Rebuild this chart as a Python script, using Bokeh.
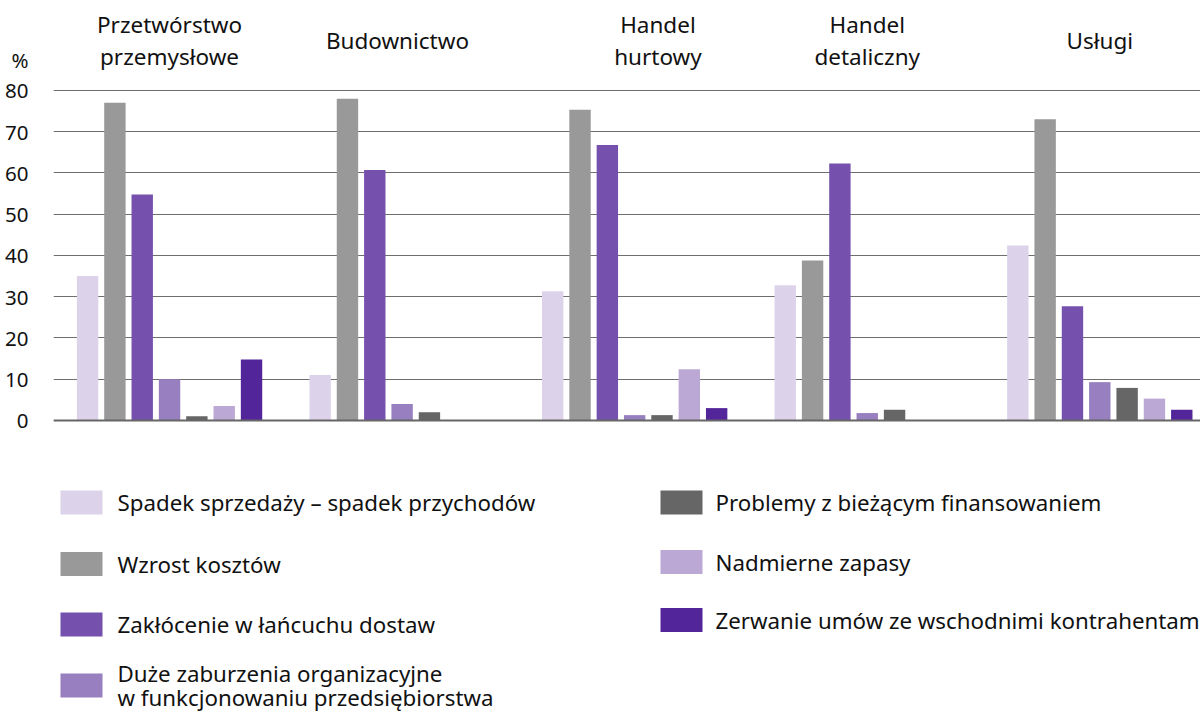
from bokeh.plotting import figure
from bokeh.models import Range1d, FixedTicker, Span, ColumnDataSource
from bokeh.layouts import column
from bokeh.embed import file_html
from bokeh.resources import INLINE
from bokeh.core.properties import value

FONT = "Noto Sans"

groups = ["Przetwórstwo\nprzemysłowe", "Budownictwo", "Handel\nhurtowy", "Handel\ndetaliczny", "Usługi"]
group_label_shift = [0.0, -0.02, 0.1, 0.0, 0.0]

series = [
    "Spadek sprzedaży – spadek przychodów",
    "Wzrost kosztów",
    "Zakłócenie w łańcuchu dostaw",
    "Duże zaburzenia organizacyjne\nw funkcjonowaniu przedsiębiorstwa",
    "Problemy z bieżącym finansowaniem",
    "Nadmierne zapasy",
    "Zerwanie umów ze wschodnimi kontrahentam",
]
colors = ["#dcd3ea", "#999999", "#7551ad", "#977fc0", "#666666", "#bba8d5", "#52259a"]

spadek_sprzedazy = [35.0, 11.0, 31.3, 32.8, 42.4]
wzrost_kosztow = [77.0, 78.0, 75.3, 38.8, 73.0]
zaklocenie_dostaw = [54.8, 60.7, 66.8, 62.3, 27.7]
zaburzenia_org = [10.0, 4.0, 1.3, 1.8, 9.3]
problemy_finans = [1.0, 2.0, 1.3, 2.6, 7.9]
nadmierne_zapasy = [3.5, 0.0, 12.4, 0.0, 5.3]
zerwanie_umow = [14.8, 0.0, 3.0, 0.0, 2.6]
values = [spadek_sprzedazy, wzrost_kosztow, zaklocenie_dostaw, zaburzenia_org,
          problemy_finans, nadmierne_zapasy, zerwanie_umow]

yticks = [0, 10, 20, 30, 40, 50, 60, 70, 80]
unit_tick = 87.3  # position of the "%" unit label on the value axis

W = 1200
H1 = 440
LEFT = 53
p = figure(width=W, height=H1, output_backend="svg", toolbar_location=None,
           x_range=Range1d(-0.499, 4.433), y_range=Range1d(-4.85, 101.8),
           x_axis_location=None,
           min_border_left=LEFT, min_border_right=0, min_border_top=0, min_border_bottom=0)
p.outline_line_color = None
p.background_fill_color = "white"
p.xgrid.visible = False
p.yaxis.ticker = FixedTicker(ticks=yticks + [unit_tick])
p.yaxis.major_label_overrides = {unit_tick: "%"}
p.yaxis.axis_line_color = None
p.yaxis.major_tick_line_color = None
p.yaxis.minor_tick_line_color = None
p.yaxis.major_label_standoff = 19
p.yaxis.major_label_text_font = FONT
p.yaxis.major_label_text_font_size = "20.5px"
p.yaxis.major_label_text_color = "#111111"
p.ygrid.ticker = FixedTicker(ticks=yticks)
p.ygrid.grid_line_color = "#6e6e6e"
p.ygrid.grid_line_width = 1

step = 0.1175
bw = 0.092
xs = list(range(len(groups)))
for i, (vals, c) in enumerate(zip(values, colors)):
    src = ColumnDataSource(dict(x=[x + (i - 3) * step for x in xs], top=vals))
    p.vbar(x="x", top="top", bottom=0, width=bw, source=src, fill_color=c, line_color=None)

p.add_layout(Span(location=0, dimension="width", line_color="#666666", line_width=2))

lab_src = ColumnDataSource(dict(x=[x + s for x, s in zip(xs, group_label_shift)], y=[92.1] * 5, t=groups))
p.text(x="x", y="y", text="t", source=lab_src, text_font=value(FONT), text_font_size="22.5px",
       text_align="center", text_baseline="middle", text_line_height=1.04, text_color="#111111")

# legend figure (its frame is aligned with the chart frame, so x runs from LEFT to W)
H2 = 272
lg = figure(width=W, height=H2, output_backend="svg", toolbar_location=None,
            x_range=Range1d(LEFT, W), y_range=Range1d(H2, 0),
            x_axis_location=None, y_axis_location=None,
            min_border_left=LEFT, min_border_right=0, min_border_top=0, min_border_bottom=0)
lg.outline_line_color = None
lg.grid.visible = False

col_x = [60, 660]
col_text_gap = [57, 55]
col_rows = [[62, 123.5, 184, 245], [62, 121.5, 179.5]]
lx, ly, lc, lt, tx = [], [], [], [], []
k = 0
for ci, rows in enumerate(col_rows):
    for r in rows:
        lx.append(col_x[ci] + 21)
        ly.append(r)
        lc.append(colors[k])
        lt.append(series[k])
        tx.append(col_x[ci] + col_text_gap[ci])
        k += 1
lsrc = ColumnDataSource(dict(x=lx, y=ly, c=lc, t=lt, tx=tx))
lg.rect(x="x", y="y", width=42, height=24, fill_color="c", line_color=None, source=lsrc)
lg.text(x="tx", y="y", text="t", source=lsrc, text_font=value(FONT), text_font_size="22.3px",
        text_align="left", text_baseline="middle", text_line_height=0.78, text_color="#111111")

layout = column(p, lg, spacing=0)
open("out.html", "w").write(file_html(layout, INLINE))
